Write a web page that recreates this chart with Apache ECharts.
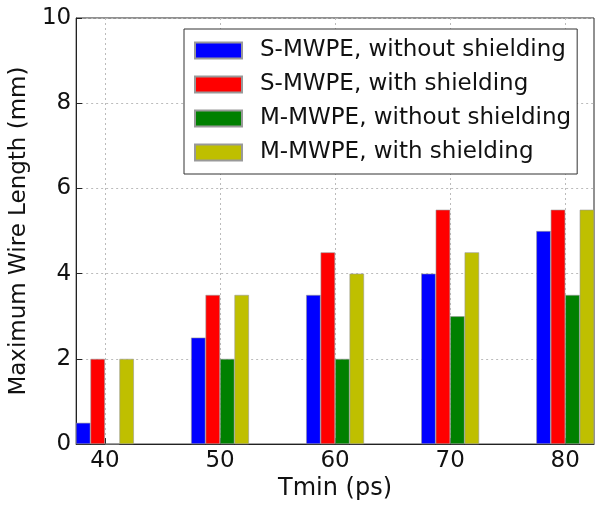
<!DOCTYPE html>
<html>
<head>
<meta charset="utf-8">
<script src="https://cdn.jsdelivr.net/npm/echarts@6/dist/echarts.min.js"></script>
<style>
html,body{margin:0;padding:0;background:#fff;}
#chart{width:600px;height:506px;}
</style>
</head>
<body>
<div id="chart"></div>
<script>
const categories = [40, 50, 60, 70, 80];
const sNoShield = [0.5, 2.5, 3.5, 4.0, 5.0];
const sShield = [2.0, 3.5, 4.5, 5.5, 5.5];
const mNoShield = [0, 2.0, 2.0, 3.0, 3.5];
const mShield = [2.0, 3.5, 4.0, 4.5, 5.5];
const seriesNames = ['S-MWPE, without shielding', 'S-MWPE, with shielding', 'M-MWPE, without shielding', 'M-MWPE, with shielding'];
const seriesValues = [sNoShield, sShield, mNoShield, mShield];
const colors = ['#0000ff', '#ff0000', '#008000', '#bfbf00'];

const FONT = 'DejaVu Sans';
const chart = echarts.init(document.getElementById('chart'));
const option = {
  animation: false,
  backgroundColor: '#fff',
  textStyle: { fontFamily: FONT },
  grid: { left: 73, right: 6, top: 18, bottom: 59, show: true, borderColor: '#222', borderWidth: 1, backgroundColor: 'transparent' },
  legend: {
    orient: 'vertical',
    left: 184, top: 29,
    itemWidth: 47, itemHeight: 16, itemGap: 11,
    padding: [10, 6, 10, 10],
    backgroundColor: '#fff',
    borderColor: '#333', borderWidth: 1,
    icon: 'rect',
    textStyle: { fontFamily: FONT, fontSize: 23, color: '#111', padding: [0, 0, 0, 13] },
    data: seriesNames
  },
  xAxis: {
    type: 'value', min: 37.5, max: 82.5,
    name: 'Tmin (ps)', nameLocation: 'middle', nameGap: 30,
    nameTextStyle: { fontFamily: FONT, fontSize: 24, color: '#111' },
    axisLine: { show: true, lineStyle: { color: '#222' } },
    axisTick: { show: true, inside: true, length: 6, customValues: categories, lineStyle: { color: '#222' } },
    axisLabel: { customValues: categories, fontFamily: FONT, fontSize: 23, color: '#111', margin: 5 },
    splitLine: { show: true, lineStyle: { color: '#bbb', type: [2, 3] } }
  },
  yAxis: {
    type: 'value', min: 0, max: 10, interval: 2,
    name: 'Maximum Wire Length (mm)', nameLocation: 'middle', nameGap: 35,
    nameTextStyle: { fontFamily: FONT, fontSize: 23, color: '#111' },
    axisLine: { show: true, lineStyle: { color: '#222' } },
    axisTick: { show: true, inside: true, length: 6, lineStyle: { color: '#222' } },
    axisLabel: { fontFamily: FONT, fontSize: 23, color: '#111', margin: 5 },
    splitLine: { show: true, lineStyle: { color: '#bbb', type: [2, 3] } }
  },
  series: seriesNames.map((name, i) => ({
    name: name,
    type: 'bar',
    barWidth: 14.47,
    barGap: '0%',
    itemStyle: { color: colors[i], borderColor: '#999', borderWidth: 0.6 },
    data: categories.map((c, j) => [c, seriesValues[i][j]])
  }))
};
chart.setOption(option);
</script>
</body>
</html>
